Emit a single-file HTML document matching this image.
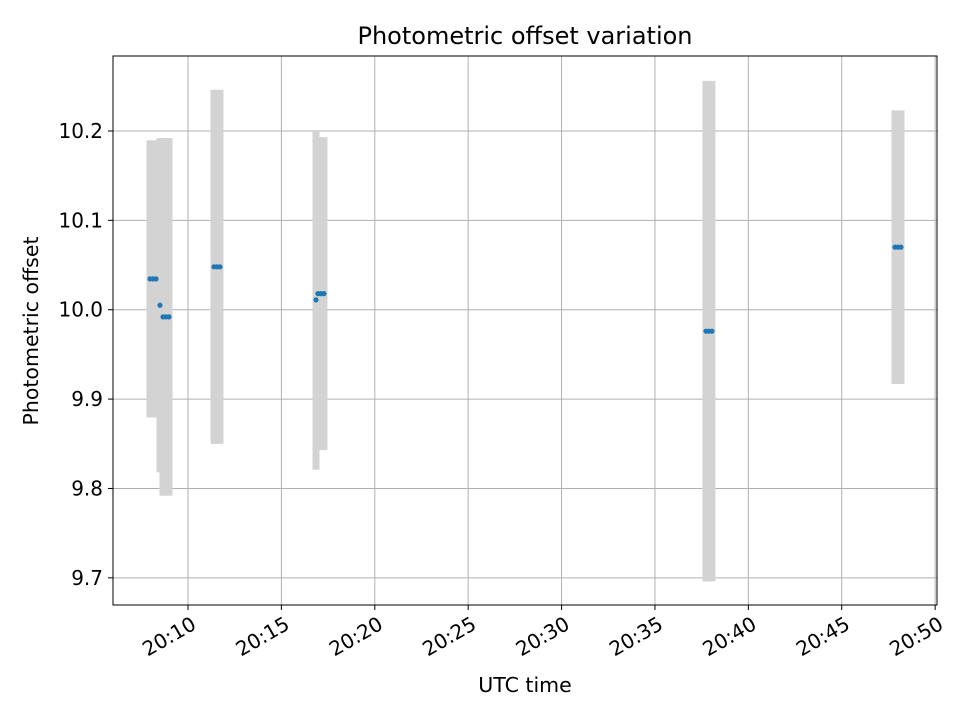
<!DOCTYPE html>
<html><head><meta charset="utf-8"><style>
body{margin:0;background:#fff;}
text{font-family:"DejaVu Sans","Liberation Sans",sans-serif;}
</style></head><body>
<svg id="chart" width="960" height="720" xmlns="http://www.w3.org/2000/svg">
<rect width="960" height="720" fill="#fff"/>
<g id="grid"></g>
<g id="bars"></g>
<g id="pts"></g>
<rect x="113" y="56" width="824" height="549" fill="none" stroke="#000" stroke-width="1"/>
<g id="ticks"></g>
<text x="525" y="44" text-anchor="middle" font-size="24">Photometric offset variation</text>
<text x="525" y="692" text-anchor="middle" font-size="20.5">UTC time</text>
<text transform="translate(38,331) rotate(-90)" text-anchor="middle" font-size="20.5">Photometric offset</text>
</svg>
<script>
// minutes after 20:00
const times=[7.966,8.126,8.287,8.501,8.662,8.822,8.983,11.392,11.552,11.713,16.852,16.959,17.120,17.280,37.73,37.89,38.05,47.85,48.01,48.17];
const offsets=[10.0345,10.0345,10.0345,10.005,9.992,9.992,9.992,10.048,10.048,10.048,10.011,10.018,10.018,10.018,9.976,9.976,9.976,10.070,10.070,10.070];
const errors=[0.155,0.155,0.155,0.187,0.2,0.2,0.2,0.198,0.198,0.198,0.19,0.175,0.175,0.175,0.28,0.28,0.28,0.153,0.153,0.153];
const xTicks=[10,15,20,25,30,35,40,45,50];
const xTickLabels=["20:10","20:15","20:20","20:25","20:30","20:35","20:40","20:45","20:50"];
const yTicks=[9.7,9.8,9.9,10.0,10.1,10.2];
const yTickLabels=["9.7","9.8","9.9","10.0","10.1","10.2"];
const X0=113,X1=937,Y0=56,Y1=605,xmin=5.985,xmax=50.1,ymin=9.6696,ymax=10.2839;
const xs=v=>X0+(v-xmin)/(xmax-xmin)*(X1-X0);
const ys=v=>Y1-(v-ymin)/(ymax-ymin)*(Y1-Y0);
const NS="http://www.w3.org/2000/svg";
function mk(t,a,p){const e=document.createElementNS(NS,t);for(const k in a)e.setAttribute(k,a[k]);p.appendChild(e);return e;}
const G=document.getElementById('grid'),B=document.getElementById('bars'),P=document.getElementById('pts'),T=document.getElementById('ticks');
xTicks.forEach((v,i)=>{const x=xs(v);
 const l=mk('line',{x1:x,x2:x,y1:Y0,y2:Y1,stroke:'#b0b0b0','stroke-width':1},G);
 
 const t=mk('line',{x1:x,x2:x,y1:Y1,y2:Y1+5,stroke:'#000'},T);
 
 const tx=mk('text',{transform:`translate(${x+2},${Y1+10}) rotate(-30)`,'text-anchor':'end','font-size':'20',dy:'0.75em'},T);
 tx.textContent=xTickLabels[i];
 });
yTicks.forEach((v,i)=>{const y=ys(v);
 const l=mk('line',{x1:X0,x2:X1,y1:y,y2:y,stroke:'#b0b0b0','stroke-width':1},G);
 
 const t=mk('line',{x1:X0-5,x2:X0,y1:y,y2:y,stroke:'#000'},T);
 
 const tx=mk('text',{x:X0-10,y:y+7,'text-anchor':'end','font-size':'20'},T);
 tx.textContent=yTickLabels[i];
 });
times.forEach((t,i)=>{const x=xs(t),y1=ys(offsets[i]+errors[i]),y2=ys(offsets[i]-errors[i]);
 const r=mk('rect',{x:x-3.5,y:y1,width:7,height:y2-y1,fill:'#d3d3d3'},B);
 });
times.forEach((t,i)=>{
 const c=mk('circle',{cx:xs(t),cy:ys(offsets[i]),r:2.6,fill:'#1f77b4'},P);
 });
</script>
</body></html>
